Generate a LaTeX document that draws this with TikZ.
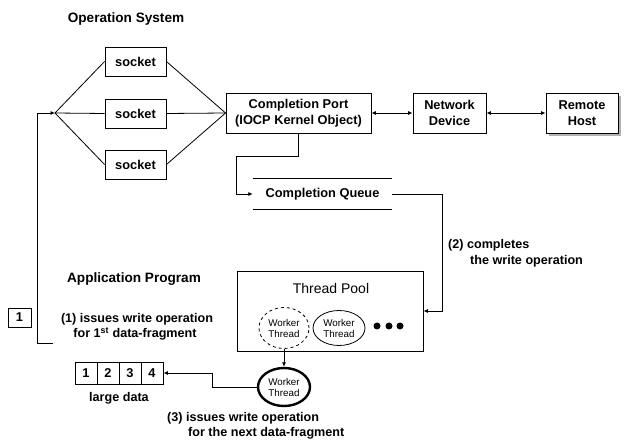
\documentclass[tikz,border=0pt]{standalone}
\usepackage{fontspec}
\setmainfont{Liberation Sans}
\usetikzlibrary{arrows.meta,shapes.geometric}
\begin{document}
\begin{tikzpicture}[x=1pt,y=-1pt,
  box/.style={draw, line width=0.9pt, inner sep=0pt, align=center,
    font=\fontsize{12.8}{15.5}\selectfont\bfseries},
  lbl/.style={inner sep=0pt, font=\fontsize{12.6}{15}\selectfont\bfseries},
  head/.style={inner sep=0pt, font=\fontsize{13.6}{15}\selectfont\bfseries},
  cell/.style={draw, line width=0.9pt, inner sep=0pt, minimum width=22pt,
    minimum height=22pt, font=\fontsize{12.8}{15}\selectfont\bfseries},
  conn/.style={line width=0.8pt},
  tip/.style={-{Latex[length=4.5pt,width=4pt]}},
  both/.style={{Latex[length=4.5pt,width=4pt]}-{Latex[length=4.5pt,width=4pt]}},
  worker/.style={ellipse, draw, line width=0.8pt, inner sep=0pt, align=center,
    font=\fontsize{9.8}{11}\selectfont},
  blob/.style={circle, fill, inner sep=0pt, minimum size=7pt},
]
\useasboundingbox (0,0) rectangle (625,441);

% ---- operating system side ----
\node[head] (os) at (126,19) {Operation System};

\node[box, minimum width=61pt, minimum height=29pt] (s1) at (135.5,61.5) {socket};
\node[box, minimum width=61pt, minimum height=29pt] (s2) at (135.5,113.5) {socket};
\node[box, minimum width=61pt, minimum height=29pt] (s3) at (135.5,164.5) {socket};

\node[box, minimum width=145pt, minimum height=40pt] (cp) at (298.5,113)
  {Completion Port\\(IOCP Kernel Object)};
\node[box, minimum width=73pt, minimum height=40pt] (nd) at (449.5,113)
  {Network\\Device};
% remote host with its drop shadow
\fill[black!30] (549,96) rectangle (621,136);
\node[box, fill=white, minimum width=72pt, minimum height=40pt] (rh) at (582,113)
  {Remote\\Host};

\draw[conn,both] (cp.east) -- (nd.west);
\draw[conn,both] (nd.east) -- (rh.west);

% fan of sockets
\coordinate (fork) at (55,113);
\foreach \s in {s1,s2,s3} {
  \draw[conn] (fork) -- (\s.west);
  \draw[conn] (\s.east) -- (cp.west);
}

% completion queue
\node[inner sep=0pt, minimum width=139pt, minimum height=30pt,
  font=\fontsize{12.8}{15}\selectfont\bfseries] (cq) at (322.5,194) {Completion Queue};
\draw[line width=0.9pt] (cq.north west) -- (cq.north east);
\draw[line width=0.9pt] (cq.south west) -- (cq.south east);

\coordinate (k1) at (236,156);
\draw[conn,tip] (cp.south) |- (k1) |- (cq.west);

% ---- application side ----
\node[head] (app) at (134,279) {Application Program};

\node[draw, line width=0.9pt, minimum width=186pt, minimum height=80pt] (tp) at (330,311) {};
\node[inner sep=0pt, font=\fontsize{14}{16}\selectfont] (tpt) at (331,288) {Thread Pool};
\node[worker, dashed, minimum width=50pt, minimum height=41pt] (w1) at (284,328) {Worker\\Thread};
\node[worker, minimum width=52pt, minimum height=35pt] (w2) at (339,328) {Worker\\Thread};
\node[blob] (b1) at (377,326) {};
\node[blob] (b2) at (389,326) {};
\node[blob] (b3) at (400,326) {};

\coordinate (c2) at (442,311);
\draw[conn,tip] (cq.east) -| (c2) -- (tp.east);
\node[lbl, anchor=west] (m2a) at (448,245) {(2) completes};
\node[lbl, anchor=west] (m2b) at (470,261) {the write operation};

\node[worker, line width=2.4pt, minimum width=52pt, minimum height=38pt] (wb) at (284,387) {Worker\\Thread};
\draw[conn,tip] (w1.south) -- (wb.north);

% the large data block
\node[cell] (d1) at (86,373) {1};
\node[cell] (d2) at (108,373) {2};
\node[cell] (d3) at (130,373) {3};
\node[cell] (d4) at (152,373) {4};
\node[lbl] (ld) at (119,398) {large data};

\coordinate (j1) at (212,387);
\draw[conn,tip] (wb.west) -- (j1) |- (d4.east);

\node[lbl, anchor=west] (m3a) at (167,418) {(3) issues write operation};
\node[lbl, anchor=west] (m3b) at (188,433) {for the next data-fragment};

% first fragment sent to the sockets
\node[cell, minimum width=23pt, minimum height=19pt] (f1) at (19.5,317.5) {1};
\node[lbl] (m1a) at (137,319) {(1) issues write operation};
\node[lbl] (m1b) at (135,334) {for 1\textsuperscript{st} data-fragment};

\coordinate (lb) at (53,343);
\coordinate (lc) at (37,343);
\coordinate (lt) at (37,113);
\draw[conn,tip] (lb) -- (lc) -- (lt) -- (fork);
\end{tikzpicture}
\end{document}
